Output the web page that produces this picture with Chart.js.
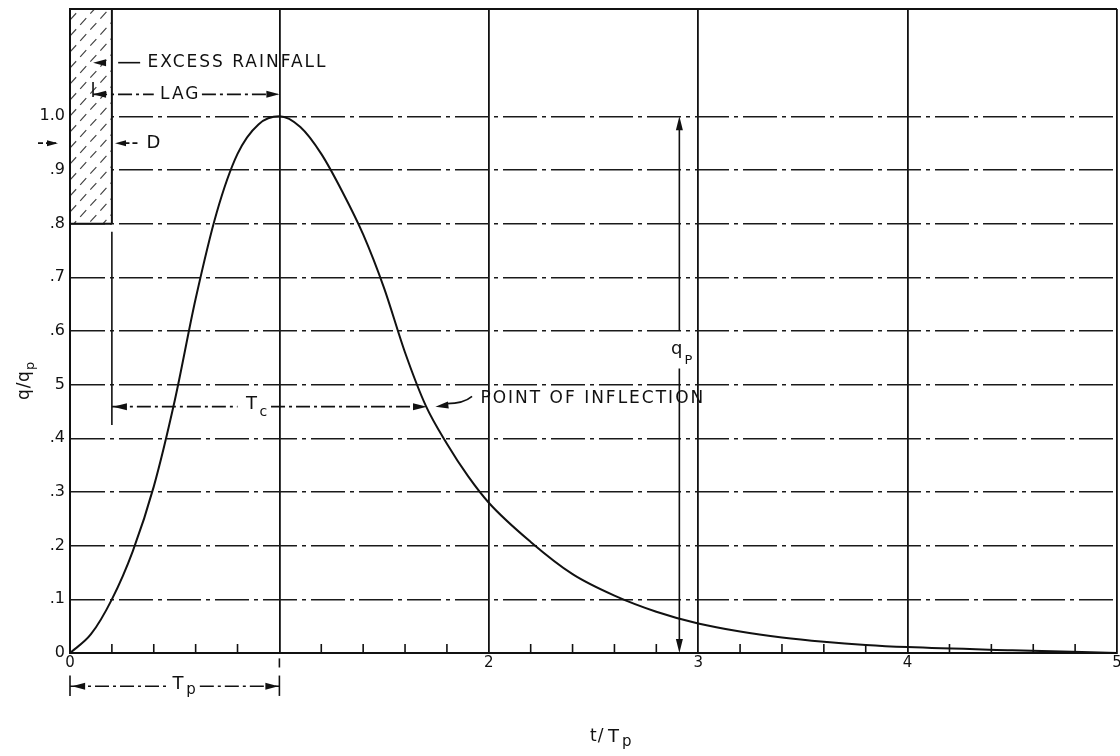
<!DOCTYPE html>
<html>
<head>
<meta charset="utf-8">
<script src="https://cdn.jsdelivr.net/npm/chart.js@4"></script>
<style>
  html, body { margin: 0; padding: 0; background: #fff; }
  #wrap { width: 1120px; height: 756px; }
</style>
</head>
<body>
<div id="wrap"><canvas id="myChart" width="1120" height="756"></canvas></div>
<script>
// dimensionless unit hydrograph
const tRatio = [0, 0.1, 0.2, 0.3, 0.4, 0.5, 0.6, 0.7, 0.8, 0.9, 1.0, 1.1, 1.2, 1.3, 1.4, 1.5, 1.6, 1.7, 1.8, 1.9,
                2.0, 2.2, 2.4, 2.6, 2.8, 3.0, 3.2, 3.4, 3.6, 3.8, 4.0, 4.5, 5.0];
const qRatio = [0, 0.035, 0.10, 0.19, 0.31, 0.47, 0.66, 0.82, 0.93, 0.985, 1.00, 0.98, 0.93, 0.86, 0.78, 0.68, 0.56, 0.46, 0.39, 0.33,
                0.28, 0.207, 0.147, 0.107, 0.077, 0.055, 0.040, 0.029, 0.021, 0.015, 0.011, 0.005, 0];

const xTickLabels = ['0', '', '2', '3', '4', '5'];
const yTickLabels = ['0', '.1', '.2', '.3', '.4', '5', '.6', '.7', '.8', '.9', '1.0', '', ''];
const minorTicks = [0.2, 0.4, 0.6, 0.8, 1.2, 1.4, 1.6, 1.8, 2.2, 2.4, 2.6, 2.8, 3.2, 3.4, 3.6, 3.8, 4.2, 4.4, 4.6, 4.8];

const FONT = '"DejaVu Sans", "Liberation Sans", sans-serif';
const INK = '#111';

function arrowHead(ctx, x1, y1, x2, y2, len, w) {
    // filled head with tip at (x2,y2), coming from (x1,y1)
    const a = Math.atan2(y2 - y1, x2 - x1);
    len = len || 13; w = w || 3.5;
    ctx.beginPath();
    ctx.moveTo(x2, y2);
    ctx.lineTo(x2 - len * Math.cos(a) + w * Math.sin(a), y2 - len * Math.sin(a) - w * Math.cos(a));
    ctx.lineTo(x2 - len * Math.cos(a) - w * Math.sin(a), y2 - len * Math.sin(a) + w * Math.cos(a));
    ctx.closePath();
    ctx.fill();
}

function seg(ctx, x1, y1, x2, y2, dash) {
    ctx.setLineDash(dash || []);
    ctx.beginPath();
    ctx.moveTo(x1, y1);
    ctx.lineTo(x2, y2);
    ctx.stroke();
    ctx.setLineDash([]);
}

function label(ctx, text, x, y, size, align) {
    ctx.font = size + 'px ' + FONT;
    ctx.textAlign = align || 'left';
    ctx.textBaseline = 'middle';
    ctx.fillText(text, x, y);
}

const rainfallBox = {
    id: 'rainfallBox',
    beforeDatasetsDraw(chart) {
        const ctx = chart.ctx;
        const X = v => chart.scales.x.getPixelForValue(v);
        const Y = v => chart.scales.y.getPixelForValue(v);
        const l = X(0), r = X(0.2), t = Y(1.2), b = Y(0.8);
        ctx.save();
        ctx.fillStyle = '#fff';
        ctx.fillRect(l + 1, t, r - l - 1, b - t);
        ctx.beginPath();
        ctx.rect(l + 1, t, r - l - 1, b - t);
        ctx.clip();
        ctx.strokeStyle = '#444';
        ctx.lineWidth = 1.2;
        for (let k = -60; k < (b - t) + 60; k += 16) {
            seg(ctx, l - 10, t + k + 34, r + 10, t + k - 34, [9, 6]);
        }
        ctx.restore();
        ctx.save();
        ctx.strokeStyle = INK;
        ctx.lineWidth = 2;
        seg(ctx, r, t, r, b);
        seg(ctx, l, b, r, b);
        ctx.restore();
    }
};

const annotations = {
    id: 'annotations',
    afterDraw(chart) {
        const ctx = chart.ctx;
        const X = v => chart.scales.x.getPixelForValue(v);
        const Y = v => chart.scales.y.getPixelForValue(v);
        const area = chart.chartArea;
        const dashDot = [14, 4, 3, 4];
        ctx.save();
        ctx.strokeStyle = INK;
        ctx.fillStyle = INK;

        // frame top
        ctx.lineWidth = 2;
        seg(ctx, area.left, area.top, area.right, area.top);
        ctx.lineWidth = 1.6;

        // minor ticks along t axis, pointing inward
        minorTicks.forEach(v => seg(ctx, X(v), Y(0), X(v), Y(0) - 9));

        ctx.letterSpacing = '2px';

        // EXCESS RAINFALL
        let y = Y(1.10);
        arrowHead(ctx, X(0.18), y, X(0.11), y, 13, 3.5);
        seg(ctx, X(0.23), y, X(0.335), y);
        label(ctx, 'EXCESS RAINFALL', X(0.37), y, 17);

        // LAG
        y = Y(1.041);
        seg(ctx, X(0.11), Y(1.064), X(0.11), Y(1.036));
        seg(ctx, X(0.11), y, X(0.40), y, dashDot);
        arrowHead(ctx, X(0.18), y, X(0.11), y);
        label(ctx, 'LAG', X(0.43), y, 17);
        seg(ctx, X(0.63), y, X(0.99), y, dashDot);
        arrowHead(ctx, X(0.9), y, X(1.0), y);

        // D
        y = Y(0.95);
        seg(ctx, 38, y, 56, y, [5, 3]);
        arrowHead(ctx, 40, y, 58, y, 11, 3);
        arrowHead(ctx, X(0.28), y, X(0.215), y, 11, 3);
        seg(ctx, X(0.26), y, X(0.33), y, [5, 3]);
        label(ctx, 'D', X(0.365), y, 18);

        // vertical mark and T_c
        seg(ctx, X(0.2), Y(0.785), X(0.2), Y(0.425));
        y = Y(0.459);
        seg(ctx, X(0.2), y, X(0.8), y, dashDot);
        arrowHead(ctx, X(0.3), y, X(0.205), y, 14, 3.5);
        label(ctx, 'T', X(0.84), y - 2, 18);
        label(ctx, 'c', X(0.905), y + 6, 14);
        seg(ctx, X(0.96), y, X(1.66), y, dashDot);
        arrowHead(ctx, X(1.6), y, X(1.705), y, 14, 3.5);

        // point of inflection
        arrowHead(ctx, X(1.82), y - 2, X(1.745), y, 13, 3.5);
        ctx.beginPath();
        ctx.moveTo(X(1.8), y - 3);
        ctx.quadraticCurveTo(X(1.88), y - 3, X(1.92), Y(0.478));
        ctx.stroke();
        label(ctx, 'POINT OF INFLECTION', X(1.96), Y(0.474), 17);

        // q_p
        const xq = X(2.91);
        seg(ctx, xq, Y(1.0) + 8, xq, Y(0.6));
        seg(ctx, xq, Y(0.53), xq, Y(0) - 8);
        arrowHead(ctx, xq, Y(0.9), xq, Y(1.0), 14, 3.5);
        arrowHead(ctx, xq, Y(0.1), xq, Y(0), 14, 3.5);
        label(ctx, 'q', X(2.87), Y(0.565), 18);
        label(ctx, 'P', X(2.935), Y(0.545), 13);

        // T_p below the axis
        y = Y(-0.062);
        seg(ctx, X(0), Y(-0.042), X(0), Y(-0.08));
        seg(ctx, X(1), Y(-0.042), X(1), Y(-0.08));
        seg(ctx, X(1), Y(-0.01), X(1), Y(-0.027));
        seg(ctx, X(0), y, X(0.46), y, dashDot);
        seg(ctx, X(0.62), y, X(1), y, dashDot);
        arrowHead(ctx, X(0.08), y, X(0.01), y);
        arrowHead(ctx, X(0.92), y, X(0.995), y);
        label(ctx, 'T', X(0.49), y - 2, 18);
        label(ctx, 'p', X(0.555), y + 4, 15);

        // axis titles
        ctx.letterSpacing = '1px';
        label(ctx, 't/', 590, 737, 17);
        label(ctx, 'T', 608, 737, 18);
        label(ctx, 'p', 622, 742, 15);

        ctx.translate(25, 380);
        ctx.rotate(-Math.PI / 2);
        label(ctx, 'q/', -20, 0, 17);
        label(ctx, 'q', -2, 0, 17);
        label(ctx, 'p', 10, 6, 13);
        ctx.restore();
    }
};

function buildChart() {
    const points = tRatio.map((t, i) => ({ x: t, y: qRatio[i] }));
    const ctx = document.getElementById('myChart').getContext('2d');
    new Chart(ctx, {
        type: 'scatter',
        data: {
            datasets: [{
                label: 'q/qp',
                data: points,
                showLine: true,
                borderColor: INK,
                borderWidth: 2,
                pointRadius: 0,
                cubicInterpolationMode: 'monotone',
                fill: false
            }]
        },
        options: {
            responsive: false,
            animation: false,
            layout: { padding: { top: 9, right: 3, left: 0, bottom: 0 } },
            plugins: { legend: { display: false }, tooltip: { enabled: false } },
            scales: {
                x: {
                    type: 'linear', min: 0, max: 5,
                    afterFit: s => { s.height = 103; s.paddingRight = 0; },
                    ticks: {
                        stepSize: 1,
                        callback: v => xTickLabels[Math.round(v)],
                        color: INK, font: { family: FONT, size: 15 },
                        padding: 1, maxRotation: 0
                    },
                    grid: { color: INK, lineWidth: 1.8, drawTicks: false },
                    border: { color: INK, width: 2 }
                },
                y: {
                    min: 0, max: 1.2,
                    afterFit: s => { s.width = 70; s.paddingTop = 0; },
                    ticks: {
                        stepSize: 0.1,
                        callback: v => yTickLabels[Math.round(v * 10)],
                        color: INK, font: { family: FONT, size: 16 },
                        padding: 5
                    },
                    grid: {
                        color: c => (c.tick && (c.tick.value > 1.05 || c.tick.value < 0.05)) ? 'rgba(0,0,0,0)' : '#1a1a1a',
                        lineWidth: 1.6, drawTicks: false
                    },
                    border: { color: INK, width: 2, dash: [34, 5, 4, 5] }
                }
            }
        },
        plugins: [rainfallBox, annotations]
    });
}

buildChart();
</script>
</body>
</html>
